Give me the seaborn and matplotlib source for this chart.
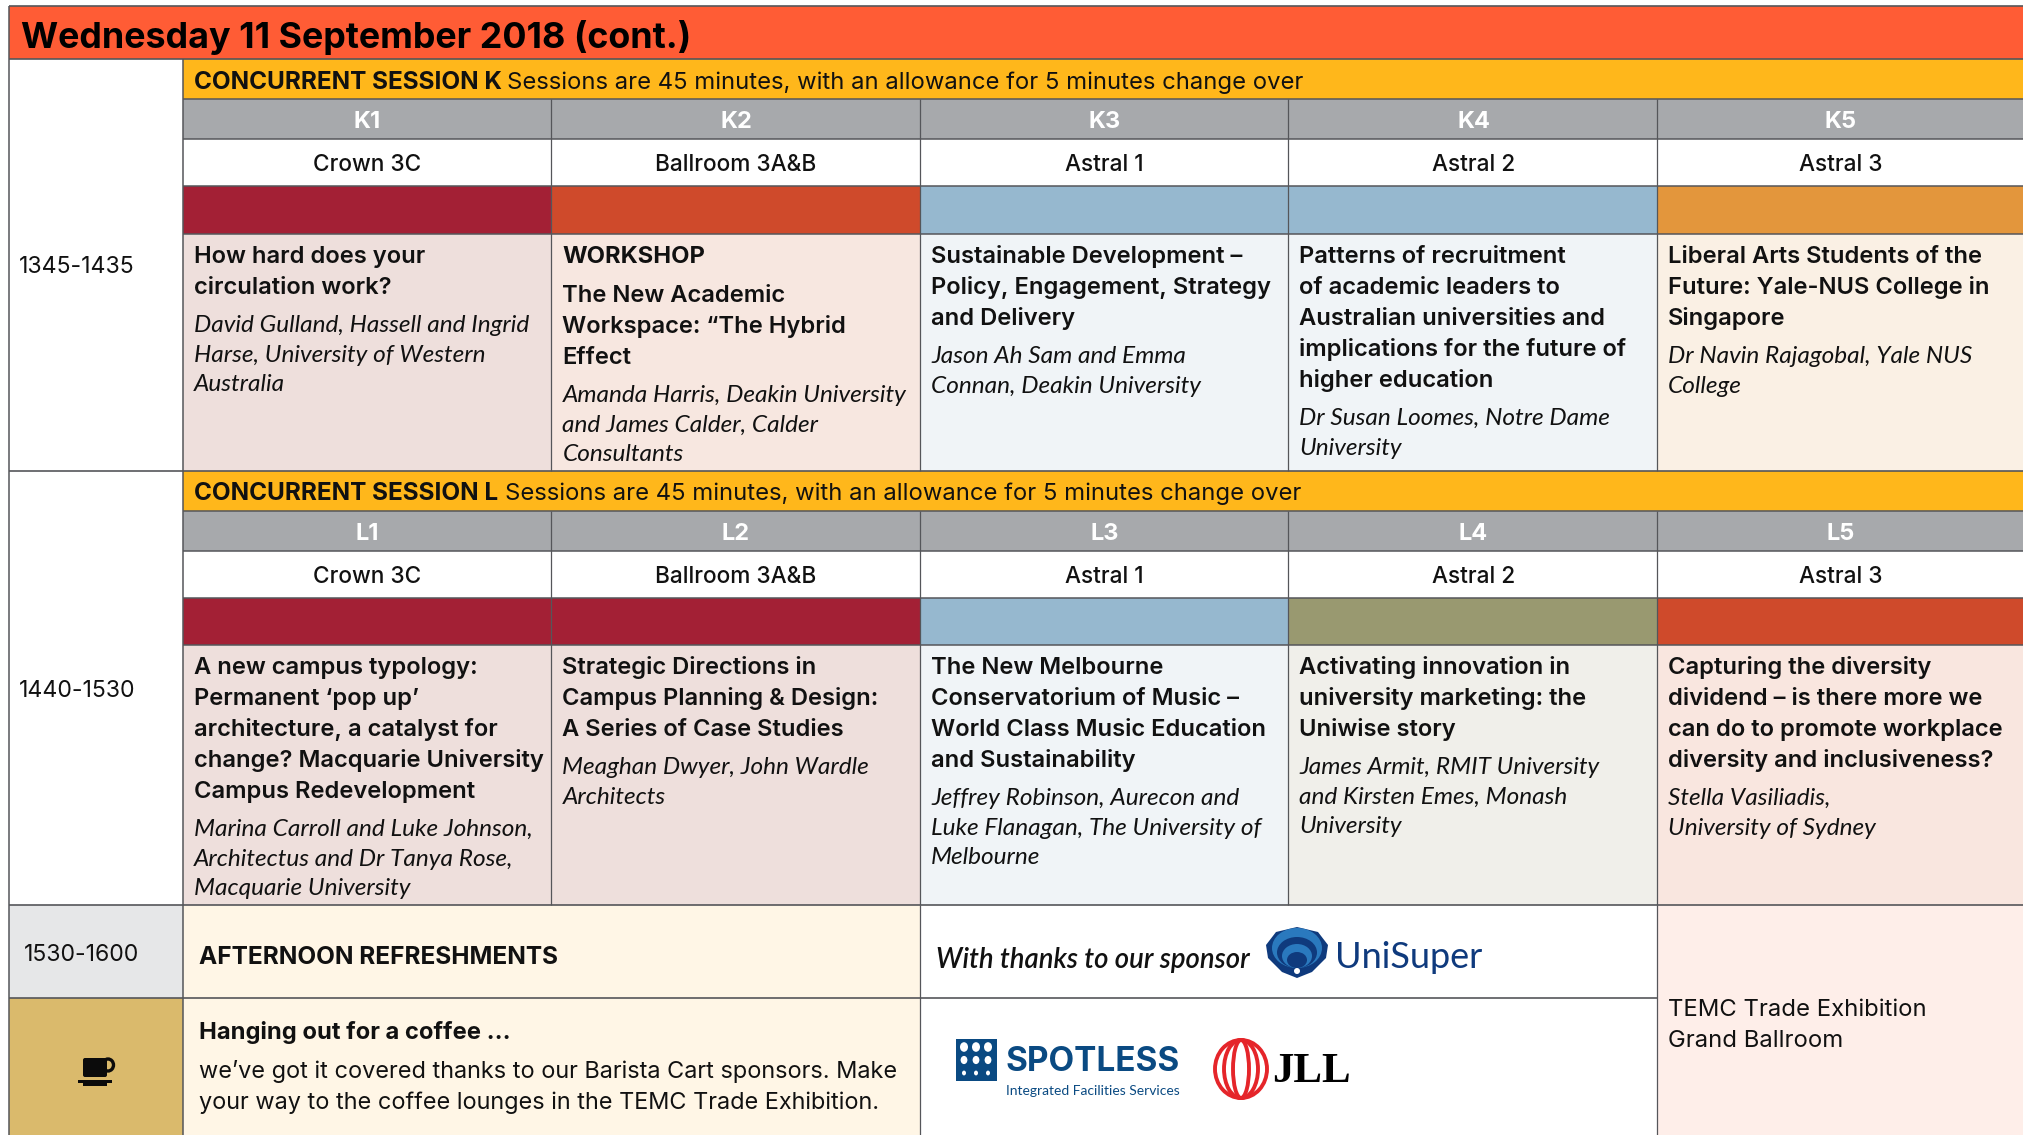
# Conference timetable page, grid cells through a seaborn heatmap
import numpy as np
import pandas as pd
import seaborn as sns
import matplotlib.pyplot as plt
from matplotlib.colors import ListedColormap
from matplotlib.patches import Circle, Ellipse, FancyBboxPatch, Polygon, Rectangle

sns.set_theme(style='white')
plt.rcParams['font.family'] = ['Inter', 'DejaVu Sans']

# Data
day_title = 'Wednesday 11 September 2018 (cont.)'
session_k = 'CONCURRENT SESSION K'
session_l = 'CONCURRENT SESSION L'
session_note = 'Sessions are 45 minutes, with an allowance for 5 minutes change over'
times = ['1345-1435', '1440-1530', '1530-1600']
k_codes = ['K1', 'K2', 'K3', 'K4', 'K5']
l_codes = ['L1', 'L2', 'L3', 'L4', 'L5']
rooms = ['Crown 3C', 'Ballroom 3A&B', 'Astral 1', 'Astral 2', 'Astral 3']

k_titles = [
    ['How hard does your', 'circulation work?'],
    ['The New Academic', 'Workspace: “The Hybrid', 'Effect'],
    ['Sustainable Development –', 'Policy, Engagement, Strategy', 'and Delivery'],
    ['Patterns of recruitment', 'of academic leaders to', 'Australian universities and',
     'implications for the future of', 'higher education'],
    ['Liberal Arts Students of the', 'Future: Yale-NUS College in', 'Singapore'],
]
k_speakers = [
    ['David Gulland, Hassell and Ingrid', 'Harse, University of Western', 'Australia'],
    ['Amanda Harris, Deakin University', 'and James Calder, Calder', 'Consultants'],
    ['Jason Ah Sam and Emma', 'Connan, Deakin University'],
    ['Dr Susan Loomes, Notre Dame', 'University'],
    ['Dr Navin Rajagobal, Yale NUS', 'College'],
]
l_titles = [
    ['A new campus typology:', 'Permanent ‘pop up’', 'architecture, a catalyst for',
     'change? Macquarie University', 'Campus Redevelopment'],
    ['Strategic Directions in', 'Campus Planning & Design:', 'A Series of Case Studies'],
    ['The New Melbourne', 'Conservatorium of Music –', 'World Class Music Education',
     'and Sustainability'],
    ['Activating innovation in', 'university marketing: the', 'Uniwise story'],
    ['Capturing the diversity', 'dividend – is there more we', 'can do to promote workplace',
     'diversity and inclusiveness?'],
]
l_speakers = [
    ['Marina Carroll and Luke Johnson,', 'Architectus and Dr Tanya Rose,', 'Macquarie University'],
    ['Meaghan Dwyer, John Wardle', 'Architects'],
    ['Jeffrey Robinson, Aurecon and', 'Luke Flanagan, The University of', 'Melbourne'],
    ['James Armit, RMIT University', 'and Kirsten Emes, Monash', 'University'],
    ['Stella Vasiliadis,', 'University of Sydney'],
]
coffee_head = 'Hanging out for a coffee ...'
coffee_lines = ['we’ve got it covered thanks to our Barista Cart sponsors. Make',
                'your way to the coffee lounges in the TEMC Trade Exhibition.']

# colour names for each cell of the grid, top row first
palette = {'white': '#FFFFFF', 'title': '#FF5C35', 'amber': '#FFB71B', 'grey': '#A7A9AC',
           'crimson': '#A32035', 'rust': '#CF4A2B', 'blue': '#96B8CF', 'orange': '#E3963C',
           'olive': '#999970', 'rose': '#EEDFDC', 'peach': '#F7E7E0', 'ice': '#F0F4F7',
           'sand': '#FAF0E4', 'stone': '#F0EFEA', 'blush': '#F9E6DF', 'cream': '#FFF6E6',
           'silver': '#E6E7E8', 'tan': '#DABA6C', 'pale': '#FEEEE9'}
cells = [
    ['title'] * 6,
    ['white'] + ['amber'] * 5,
    ['white'] + ['grey'] * 5,
    ['white'] * 6,
    ['white', 'crimson', 'rust', 'blue', 'blue', 'orange'],
    ['white', 'rose', 'peach', 'ice', 'ice', 'sand'],
    ['white'] + ['amber'] * 5,
    ['white'] + ['grey'] * 5,
    ['white'] * 6,
    ['white', 'crimson', 'crimson', 'blue', 'olive', 'rust'],
    ['white', 'rose', 'rose', 'ice', 'stone', 'blush'],
    ['silver', 'cream', 'cream', 'white', 'white', 'pale'],
    ['tan', 'cream', 'cream', 'white', 'white', 'pale'],
]

# Layout in pixels of the page
W, H = 2024, 1135
x_edges = [9, 183, 551.5, 920, 1288.5, 1657, 2024]
y_edges = [6, 59, 99, 139, 186, 234, 471, 511, 551, 598, 645, 905, 998, 1135]
col_text = [194, 562.5, 931, 1299.5, 1668]
col_mid = [367.5, 736, 1104.5, 1473.5, 1841]

names = list(palette)
codes = pd.DataFrame([[names.index(c) for c in row] for row in cells])

fig = plt.figure(figsize=(W / 100, H / 100), dpi=100, facecolor='white')
ax = fig.add_axes([x_edges[0] / W, 0, 1 - x_edges[0] / W, 1 - y_edges[0] / H])
sns.heatmap(codes, ax=ax, cmap=ListedColormap(list(palette.values())), vmin=-0.5,
            vmax=len(names) - 0.5, cbar=False, xticklabels=False, yticklabels=False)

# stretch the unit cells of the heatmap to the real row and column sizes
xi = np.arange(len(x_edges))
yi = np.arange(len(y_edges))
ax.set_xscale('function', functions=(lambda v: np.interp(v, xi, x_edges),
                                     lambda v: np.interp(v, x_edges, xi)))
ax.set_yscale('function', functions=(lambda v: np.interp(v, yi, y_edges),
                                     lambda v: np.interp(v, y_edges, yi)))
ax.set_xlim(0, 6)
ax.set_ylim(13, 0)
ax.set_axis_off()

# overlay in page pixels for rules, text and logos
top = fig.add_axes([0, 0, 1, 1], facecolor='none')
top.set_xlim(0, W)
top.set_ylim(H, 0)
top.set_axis_off()

rule = '#55565A'
top.hlines([6, 59, 471, 905], 9, W, color=rule, lw=1.2)
top.hlines(998, 9, 1657, color=rule, lw=1.2)
top.hlines([99, 139, 186, 234, 511, 551, 598, 645], 183, W, color=rule, lw=1.1)
top.vlines(9, 6, H, color=rule, lw=1.1)
top.vlines(183, 59, H, color=rule, lw=1.1)
top.vlines([551.5, 920, 1288.5, 1657], 99, 471, color=rule, lw=0.9)
top.vlines([551.5, 920, 1288.5, 1657], 511, 905, color=rule, lw=0.9)
top.vlines([920, 1657], 905, H, color=rule, lw=0.9)


def put(x, y, s, size, weight='normal', style='normal', color='#111111', ha='left', family=None):
    # y is the middle of the capitals
    kw = {'family': family} if family else {}
    return top.text(x, y + 0.47 * size, s, fontsize=size, fontweight=weight, fontstyle=style,
                    color=color, ha=ha, va='baseline', **kw)


def session(start, titles, speakers):
    for c in range(5):
        y = start
        if titles is k_titles and c == 1:
            put(col_text[c], y, 'WORKSHOP', 17.1, 'bold')
            y += 39
        for line in titles[c]:
            put(col_text[c], y, line, 17.1, 'semibold')
            y += 31
        y += 7
        for line in speakers[c]:
            put(col_text[c], y, line, 17.6, style='italic', family=['Lato', 'DejaVu Sans'])
            y += 29.5


put(21, 36, day_title, 25.8, 'bold', color='#000000')

put(194, 81, session_k, 17.5, 'bold')
put(507.5, 81, session_note, 17.15)
put(194, 491.5, session_l, 17.5, 'bold')
put(505.5, 491.5, session_note, 17.15)

for i in range(5):
    put(col_mid[i], 120, k_codes[i], 17, 'bold', color='white', ha='center')
    put(col_mid[i], 532, l_codes[i], 17, 'bold', color='white', ha='center')
    put(col_mid[i], 163, rooms[i], 16.3, 'medium', ha='center')
    put(col_mid[i], 575, rooms[i], 16.3, 'medium', ha='center')

put(18.5, 265.5, times[0], 16.6)
put(18.5, 689.5, times[1], 16.6)
put(23.5, 953, times[2], 16.6)

session(255, k_titles, k_speakers)
session(666, l_titles, l_speakers)

put(199, 956, 'AFTERNOON REFRESHMENTS', 17.6, 'bold')
put(199, 1031, coffee_head, 17.1, 'bold')
put(199, 1070, coffee_lines[0], 16.9)
put(199, 1101, coffee_lines[1], 16.9)
put(936, 959, 'With thanks to our sponsor', 19.8, 'semibold', 'italic',
    family=['Lato', 'DejaVu Sans'])
put(1668, 1008, 'TEMC Trade Exhibition', 17.2)
put(1668, 1039, 'Grand Ballroom', 17.2)

# coffee cup
ink = '#0B0B0B'
top.add_patch(FancyBboxPatch((85, 1060), 20, 15, boxstyle='round,pad=2', fc=ink, ec='none'))
top.add_patch(Ellipse((108, 1065), 11, 12, fc='none', ec=ink, lw=2.4))
top.add_patch(Rectangle((78, 1080), 34, 3, fc=ink, ec='none'))
top.add_patch(Rectangle((83, 1083), 24, 3, fc=ink, ec='none'))

# UniSuper logo
navy = '#0F3A7D'
top.add_patch(Polygon([(1266, 945), (1276, 932), (1297, 927), (1318, 932), (1328, 945),
                       (1326, 958), (1312, 972), (1297, 978), (1282, 972), (1268, 958)],
                      fc=navy, ec='none'))
for w, h, c in [(50, 40, '#2A79BE'), (40, 31, navy), (30, 24, '#2A79BE'), (20, 16, navy)]:
    top.add_patch(Ellipse((1297, 968 - h / 2), w, h, fc=c, ec='none'))
top.add_patch(Circle((1297, 971), 3, fc='white', ec='none'))
top.text(1335, 968, 'UniSuper', fontsize=26, color=navy, family=['Lato', 'DejaVu Sans'])

# Spotless logo
spot = '#0A4A82'
top.add_patch(Rectangle((956, 1039), 41, 42, fc=spot, ec='none'))
for px in [964, 976, 988]:
    for py, r in [(1047, 4), (1060, 3.4), (1073, 2)]:
        top.add_patch(Ellipse((px, py), 2 * r, 2.4 * r, fc='white', ec='none'))
top.text(1006, 1071, 'SPOTLESS', fontsize=24, fontweight='bold', color=spot)
top.text(1180, 1095, 'Integrated Facilities Services', fontsize=10, color=spot, ha='right',
         family=['Lato', 'DejaVu Sans'])

# JLL logo
for w in [52, 34, 16]:
    top.add_patch(Ellipse((1241, 1069), w, 58, fc='none', ec='#E5252A', lw=2.8))
top.text(1272, 1082, 'JLL', fontsize=31, fontweight='bold', color='#000000',
         family=['Liberation Serif', 'DejaVu Serif'])

fig.savefig('out.png', dpi=100)
